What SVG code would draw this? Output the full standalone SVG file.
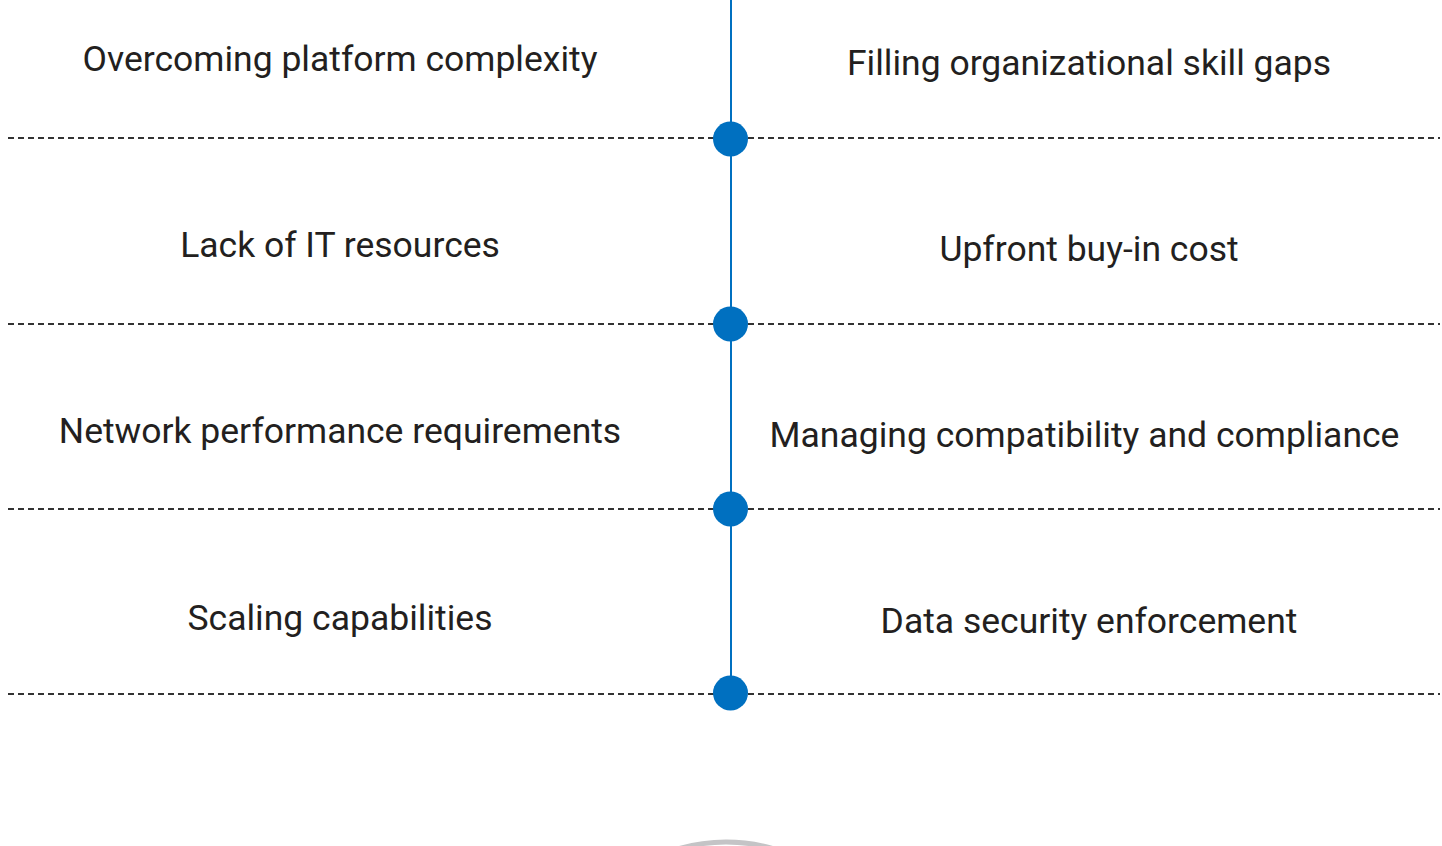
<svg xmlns="http://www.w3.org/2000/svg" width="1442" height="846" viewBox="0 0 1442 846">
<style>
.t{font-family:Roboto,"Liberation Sans",sans-serif;font-size:35.5px;fill:#231f20;text-anchor:middle}
.d{stroke:#333;stroke-width:2;stroke-dasharray:6 4;fill:none}
.dot{fill:#0070c0}
</style>
<rect width="1442" height="846" fill="#fff"/>
<circle cx="726" cy="1012" r="170" fill="none" stroke="#c4c4c6" stroke-width="5"/>
<g id="connectors">
<line x1="731" y1="0" x2="731" y2="694" stroke="#0070c0" stroke-width="2"/>
<line class="d" x1="8" y1="138" x2="1440" y2="138"/>
<line class="d" x1="8" y1="324" x2="1440" y2="324"/>
<line class="d" x1="8" y1="509" x2="1440" y2="509"/>
<line class="d" x1="8" y1="694" x2="1440" y2="694"/>
</g>
<g id="dot1"><circle class="dot" cx="730.5" cy="139" r="17.5"/></g>
<g id="dot2"><circle class="dot" cx="730.5" cy="324" r="17.5"/></g>
<g id="dot3"><circle class="dot" cx="730.5" cy="509" r="17.5"/></g>
<g id="dot4"><circle class="dot" cx="730.5" cy="693" r="17.5"/></g>
<g id="l1"><text class="t" x="340" y="71">Overcoming platform complexity</text></g>
<g id="l2"><text class="t" x="340" y="257">Lack of IT resources</text></g>
<g id="l3"><text class="t" x="340" y="443">Network performance requirements</text></g>
<g id="l4"><text class="t" x="340" y="630">Scaling capabilities</text></g>
<g id="r1"><text class="t" x="1089" y="75">Filling organizational skill gaps</text></g>
<g id="r2"><text class="t" x="1089" y="261">Upfront buy-in cost</text></g>
<g id="r3"><text class="t" x="1084.5" y="447">Managing compatibility and compliance</text></g>
<g id="r4"><text class="t" x="1089" y="633">Data security enforcement</text></g>
</svg>
